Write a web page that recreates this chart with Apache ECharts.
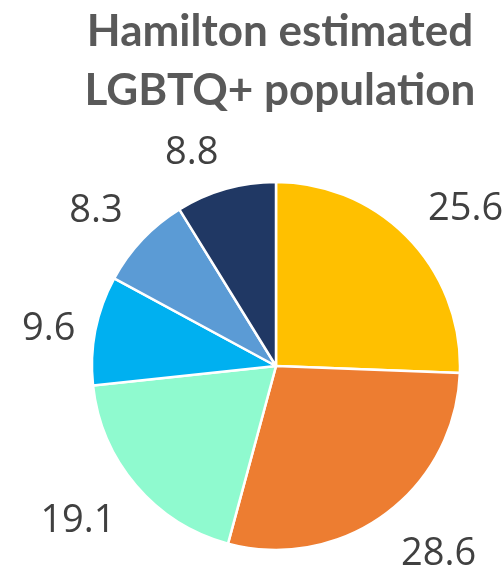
<!DOCTYPE html>
<html><head><meta charset="utf-8">
<script src="https://cdn.jsdelivr.net/npm/echarts@6/dist/echarts.min.js"></script>
<style>html,body{margin:0;padding:0;background:#fff}#c{width:504px;height:569px}</style>
</head><body><div id="c"></div>
<script>
const categories = ['A','B','C','D','E','F'];
const values = [25.6, 28.6, 19.1, 9.6, 8.3, 8.8];
const colors = ['#FFC000','#ED7D31','#8FFACF','#00B0F0','#5B9BD5','#203864'];
const titleText = 'Hamilton estimated\nLGBTQ+ population';

const CX = 276, CY = 366, R = 184;
const LABEL_GAP = 27, LABEL_FONT = 38, MIN_LEFT = 22, INK_SHIFT = 4;
const total = values.reduce((a, b) => a + b, 0);

const chart = echarts.init(document.getElementById('c'));
chart.setOption({
  animation: false,
  title: {
    text: titleText,
    left: 275, top: -3, textAlign: 'center',
    textStyle: {fontFamily: 'Lato', fontWeight: 'bold', fontSize: 44, lineHeight: 59, color: '#595959'}
  },
  series: [{
    type: 'pie',
    center: [CX, CY],
    radius: R,
    startAngle: 90,
    clockwise: true,
    data: categories.map((c, i) => ({name: c, value: values[i], itemStyle: {color: colors[i]}})),
    itemStyle: {borderColor: '#fff', borderWidth: 2.5},
    label: {
      show: true, position: 'outside', formatter: p => p.value.toFixed(1), overflow: 'none',
      fontFamily: 'Open Sans', fontSize: LABEL_FONT, color: '#404040'
    },
    labelLine: {show: false, length: 14, length2: 4},
    labelLayout: function (p) {
      const i = p.dataIndex;
      let cum = 0;
      for (let k = 0; k < i; k++) cum += values[k];
      const a = (cum + values[i] / 2) / total * Math.PI * 2;
      const dx = Math.sin(a), dy = -Math.cos(a);
      const w = p.labelRect.width, h = LABEL_FONT * 0.74;
      const ax = CX + dx * (R + LABEL_GAP), ay = CY + dy * (R + LABEL_GAP);
      let x = ax + Math.sign(dx) * w / 2;
      let y = ay + (Math.abs(dy) < 0.25 ? 0 : Math.sign(dy) * h / 2);
      if (x - w / 2 < MIN_LEFT) x = MIN_LEFT + w / 2;
      return {x: x, y: y + INK_SHIFT, align: 'center', verticalAlign: 'middle'};
    }
  }]
});
</script></body></html>
